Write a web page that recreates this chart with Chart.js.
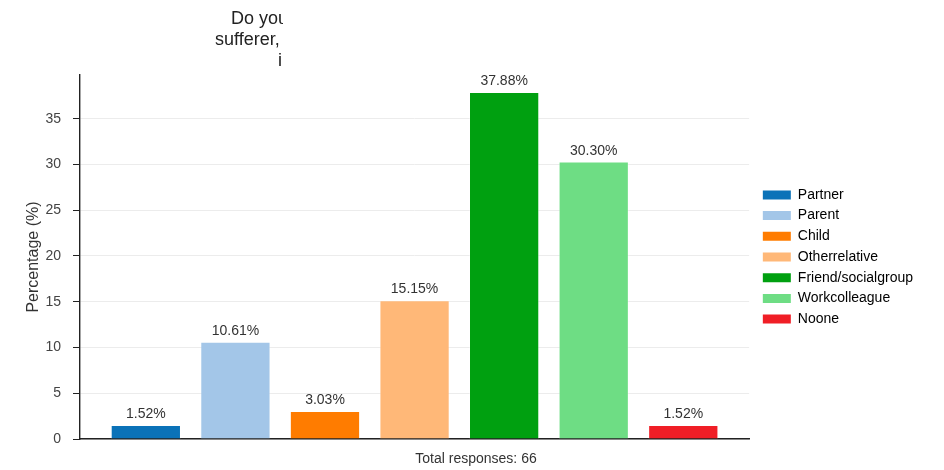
<!DOCTYPE html>
<html>
<head>
<meta charset="utf-8">
<script src="https://cdn.jsdelivr.net/npm/chart.js@4/dist/chart.umd.min.js"></script>
<style>
  html, body { margin: 0; padding: 0; background: #fff; }
  canvas { display: block; }
</style>
</head>
<body>
<canvas id="chart" width="944" height="470"></canvas>
<script>
"use strict";

// data
var categories = ["Partner", "Parent", "Child", "Otherrelative", "Friend/socialgroup", "Workcolleague", "Noone"];
var percentages = [1.52, 10.61, 3.03, 15.15, 37.88, 30.30, 1.52];
var barColors = ["#0a72b8", "#a3c6e8", "#ff7c00", "#ffb878", "#00a010", "#6edd84", "#f01e26"];
var yTicks = [0, 5, 10, 15, 20, 25, 30, 35];
var titleLines = ["Do you", "sufferer,", "in"];
var footnote = "Total responses: 66";

var FONT = "'Liberation Sans', Arial, sans-serif";

/*
Title fragments: the rest of the title is hidden in the picture
*/
var titlePlugin = {
	id: "clippedTitle",
	afterDraw: function(chart) {
		var ctx = chart.ctx;
		var starts = [231, 215, 278];
		var baselines = [24, 45, 66];
		ctx.save();
		ctx.beginPath();
		ctx.rect(0, 0, 283, 75);
		ctx.clip();
		ctx.font = "18px " + FONT;
		ctx.fillStyle = "#222";
		ctx.textAlign = "left";
		ctx.textBaseline = "alphabetic";
		for (var i = 0; i < titleLines.length; i++) {
			ctx.fillText(titleLines[i], starts[i], baselines[i]);
		}
		ctx.restore();
		// footnote under the plot
		ctx.save();
		ctx.font = "14px " + FONT;
		ctx.fillStyle = "#333";
		ctx.textAlign = "center";
		ctx.fillText(footnote, 476, 463);
		ctx.restore();
	}
};

/*
Percent labels over each bar
*/
var valueLabels = {
	id: "valueLabels",
	afterDatasetsDraw: function(chart) {
		var ctx = chart.ctx;
		var meta = chart.getDatasetMeta(0);
		ctx.save();
		ctx.font = "14px " + FONT;
		ctx.fillStyle = "#333";
		ctx.textAlign = "center";
		ctx.textBaseline = "alphabetic";
		meta.data.forEach(function(bar, i) {
			ctx.fillText(percentages[i].toFixed(2) + "%", bar.x, bar.y - 7);
		});
		ctx.restore();
	}
};

// nudge the legend into place
var legendShift = {
	id: "legendShift",
	afterLayout: function(chart) {
		chart.legend.left += 7;
		chart.legend.right += 7;
	}
};

var points = percentages.map(function(v, i) { return {x: i, y: v}; });

new Chart(document.getElementById("chart"), {
	type: "bar",
	data: {
		datasets: [{
			data: points,
			backgroundColor: barColors,
			borderColor: "rgba(255,255,255,0.5)",
			borderWidth: 0.8,
			barPercentage: 0.78,
			categoryPercentage: 1.0
		}]
	},
	options: {
		responsive: false,
		animation: false,
		layout: { padding: { top: 75, left: 0, right: 28, bottom: 31 } },
		plugins: {
			legend: {
				position: "right",
				align: "center",
				labels: {
					boxWidth: 28,
					boxHeight: 9,
					padding: 6.7,
					color: "#333",
					font: { family: FONT, size: 14 },
					generateLabels: function() {
						return categories.map(function(c, i) {
							return { text: c, fillStyle: barColors[i], strokeStyle: barColors[i], lineWidth: 0, index: i };
						});
					}
				}
			},
			tooltip: { enabled: false }
		},
		scales: {
			x: {
				type: "linear",
				offset: false,
				min: -0.735,
				max: 6.735,
				afterBuildTicks: function(scale) {
					scale.ticks = categories.map(function(c, i) { return {value: i}; });
				},
				ticks: { display: false },
				grid: { display: false },
				border: { display: true, color: "#222", width: 1.4 },
				afterFit: function(scale) { scale.height = 0; }
			},
			y: {
				min: 0,
				max: 39.77,
				afterBuildTicks: function(scale) {
					scale.ticks = yTicks.map(function(v) { return {value: v}; });
				},
				ticks: {
					color: "#444",
					padding: 12,
					font: { family: FONT, size: 14 }
				},
				grid: { color: "#ececec", lineWidth: 1, tickLength: 7, tickColor: "#222" },
				border: { display: true, color: "#222", width: 1.4 },
				title: {
					display: true,
					text: "Percentage (%)",
					color: "#333",
					font: { family: FONT, size: 16 },
					padding: { top: 24, bottom: 0 }
				},
				afterFit: function(scale) { scale.width = 80; }
			}
		}
	},
	plugins: [titlePlugin, valueLabels, legendShift]
});
</script>
</body>
</html>
